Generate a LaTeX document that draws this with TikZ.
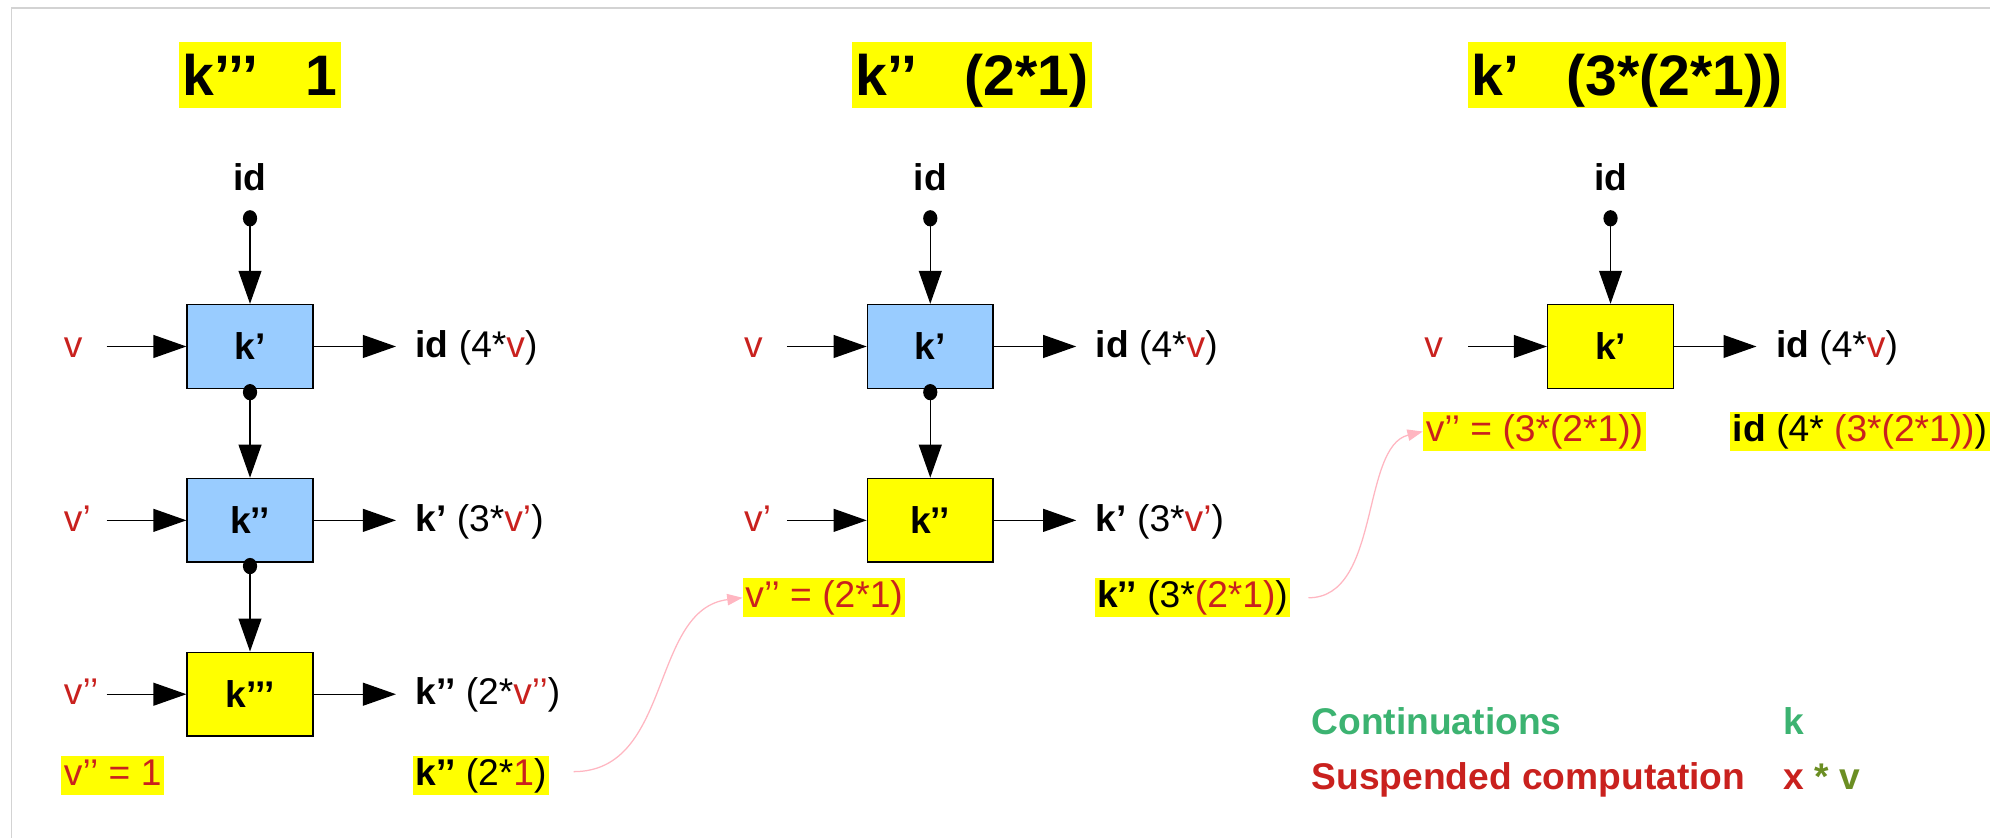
\documentclass[tikz,border=0pt]{standalone}
\usepackage{fontspec}
\setmainfont{Liberation Sans}
\usetikzlibrary{arrows.meta,shapes.geometric}
\definecolor{kblue}{HTML}{99CCFF}
\definecolor{kyellow}{HTML}{FFFF00}
\definecolor{kred}{HTML}{C9211E}
\definecolor{kgreen}{HTML}{3CB371}
\definecolor{kolive}{HTML}{6B8E23}
\definecolor{kpink}{HTML}{FFB6C1}
\definecolor{kframe}{HTML}{D3D3D3}
\newcommand{\lblfont}{\fontsize{14.65}{17}\selectfont}
\newcommand{\ttlfont}{\fontsize{22.5}{26}\selectfont\bfseries}
\newcommand{\rd}[1]{\textcolor{kred}{#1}}
\begin{document}
\begin{tikzpicture}[x=0.5pt,y=-0.5pt,
  lbl/.style={font=\lblfont, inner sep=0pt, text height=10.5pt, text depth=2.1pt, anchor=west},
  idlbl/.style={font=\lblfont\bfseries, inner sep=0pt},
  hl/.style={font=\lblfont, fill=kyellow, inner xsep=1pt, inner ysep=0pt, text height=11.5pt, text depth=3.8pt, anchor=west},
  ttl/.style={font=\ttlfont, fill=kyellow, inner xsep=1.5pt, inner ysep=0pt, text height=21pt, text depth=5pt},
  kbox/.style={draw, line width=0.6pt, minimum width=49.5pt, minimum height=33pt, inner sep=0pt, font=\lblfont\bfseries},
  bluebox/.style={kbox, fill=kblue},
  yelbox/.style={kbox, fill=kyellow},
  kdot/.style={ellipse, fill=black, inner sep=0pt, minimum width=5.6pt, minimum height=6.4pt},
  arr/.style={line width=0.55pt, -{Triangle[length=13pt,width=9pt]}},
  pinkarr/.style={kpink, line width=0.5pt, -{Triangle[length=6pt,width=4.5pt]}},
  leg/.style={font=\lblfont\bfseries, inner sep=0pt, text height=10.5pt, text depth=2.1pt, anchor=west}
]
\useasboundingbox (0,0) rectangle (1568,660);
\draw[kframe, line width=0.6pt] (9,660) -- (9,6.5) -- (1568,6.5);

% ---------- column 1 ----------
\node[ttl] (t1) at (205,59) {k’’’~~~1};
\node[idlbl] (id1) at (197,140) {id};
\node[kdot] (i1) at (197,172) {};
\node[bluebox] (k1a) at (197,273) {k’};
\node[bluebox] (k1b) at (197,410) {k’’};
\node[yelbox] (k1c) at (197,547) {k’’’};
\node[kdot] (d1a) at (197,309) {};
\node[kdot] (d1b) at (197,446) {};
\node[lbl] (v1a) at (50,273) {\rd{v}};
\node[lbl] (v1b) at (50,410) {\rd{v’}};
\node[lbl] (v1c) at (50,547) {\rd{v’’}};
\coordinate (s1a) at (84,273);
\coordinate (s1b) at (84,410);
\coordinate (s1c) at (84,547);
\node[lbl] (o1a) at (327,273) {\textbf{id} (4*\rd{v})};
\node[lbl] (o1b) at (327,410) {\textbf{k’} (3*\rd{v’})};
\node[lbl] (o1c) at (327,547) {\textbf{k’’} (2*\rd{v’’})};
\node[hl] (h1v) at (48,611) {\rd{v’’ = 1}};
\node[hl] (h1k) at (325,611) {\textbf{k’’} (2*\rd{1})};
\coordinate (c1s) at (452,608);

\draw[arr] (i1.center) -- (k1a.north);
\draw[arr] (d1a.center) -- (k1b.north);
\draw[arr] (d1b.center) -- (k1c.north);
\draw[arr] (s1a) -- (k1a.west);
\draw[arr] (s1b) -- (k1b.west);
\draw[arr] (s1c) -- (k1c.west);
\draw[arr, shorten >=7.5pt] (k1a.east) -- (o1a.west);
\draw[arr, shorten >=7.5pt] (k1b.east) -- (o1b.west);
\draw[arr, shorten >=7.5pt] (k1c.east) -- (o1c.west);

% ---------- column 2 ----------
\node[ttl] (t2) at (766,59) {k’’~~~(2*1)};
\node[idlbl] (id2) at (733,140) {id};
\node[kdot] (i2) at (733,172) {};
\node[bluebox] (k2a) at (733,273) {k’};
\node[yelbox] (k2b) at (733,410) {k’’};
\node[kdot] (d2a) at (733,309) {};
\node[lbl] (v2a) at (586,273) {\rd{v}};
\node[lbl] (v2b) at (586,410) {\rd{v’}};
\coordinate (s2a) at (620,273);
\coordinate (s2b) at (620,410);
\node[lbl] (o2a) at (863,273) {\textbf{id} (4*\rd{v})};
\node[lbl] (o2b) at (863,410) {\textbf{k’} (3*\rd{v’})};
\node[hl] (h2v) at (585,471) {\rd{v’’ = (2*1)}};
\node[hl] (h2k) at (862,471) {\textbf{k’’} (3*\rd{(2*1)})};
\coordinate (c2s) at (1031,471);

\draw[arr] (i2.center) -- (k2a.north);
\draw[arr] (d2a.center) -- (k2b.north);
\draw[arr] (s2a) -- (k2a.west);
\draw[arr] (s2b) -- (k2b.west);
\draw[arr, shorten >=7.5pt] (k2a.east) -- (o2a.west);
\draw[arr, shorten >=7.5pt] (k2b.east) -- (o2b.west);

% ---------- column 3 ----------
\node[ttl] (t3) at (1282,59) {k’~~~(3*(2*1))};
\node[idlbl] (id3) at (1269,140) {id};
\node[kdot] (i3) at (1269,172) {};
\node[yelbox] (k3a) at (1269,273) {k’};
\node[lbl] (v3a) at (1122,273) {\rd{v}};
\coordinate (s3a) at (1157,273);
\node[lbl] (o3a) at (1399,273) {\textbf{id} (4*\rd{v})};
\node[hl] (h3v) at (1121,340) {\rd{v’’ = (3*(2*1))}};
\node[hl] (h3k) at (1363,340) {\textbf{id} (4* \rd{(3*(2*1))})};

\draw[arr] (i3.center) -- (k3a.north);
\draw[arr] (s3a) -- (k3a.west);
\draw[arr, shorten >=7.5pt] (k3a.east) -- (o3a.west);

% ---------- pink links ----------
\draw[pinkarr] (c1s) .. controls (530,608) and (512,480) .. (h2v.west);
\draw[pinkarr] (c2s) .. controls (1088,471) and (1072,352) .. (h3v.west);

% ---------- legend ----------
\node[leg, text=kgreen] (lc) at (1033,570) {Continuations};
\node[leg, text=kgreen] (lk) at (1405,570) {k};
\node[leg, text=kred] (ls) at (1033,614) {Suspended computation};
\node[leg] (lx) at (1405,614) {\textcolor{kred}{x} \textcolor{kolive}{* v}};
\end{tikzpicture}
\end{document}
